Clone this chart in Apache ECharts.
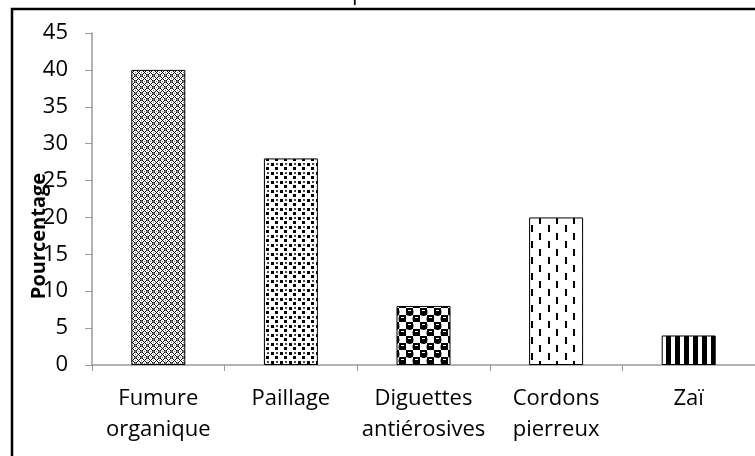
<!DOCTYPE html>
<html>
<head>
<meta charset="utf-8">
<script src="https://cdn.jsdelivr.net/npm/echarts@6/dist/echarts.min.js"></script>
<style>
	html, body { margin: 0; padding: 0; background: #fff; }
	#chart { width: 755px; height: 456px; }
</style>
</head>
<body>
<div id="chart"></div>
<script>
	var categories = ['Fumure\norganique', 'Paillage', 'Diguettes\nantiérosives', 'Cordons\npierreux', 'Zaï'];
	var values = [40, 28, 8, 20, 4];
	var yTicks = { min: 0, max: 45, interval: 5 };

	// motifs de remplissage (trames noir/blanc)
	function tile(w, h, draw) {
		var c = document.createElement('canvas');
		c.width = w;
		c.height = h;
		var ctx = c.getContext('2d');
		ctx.fillStyle = '#fff';
		ctx.fillRect(0, 0, w, h);
		ctx.fillStyle = '#000';
		draw(ctx);
		return { image: c, repeat: 'repeat' };
	}

	var motifs = [
		// petits losanges
		tile(6, 6, function(ctx) {
			for (var y = 0; y < 6; y++) {
				for (var x = 0; x < 6; x++) {
					if ((x + y) % 6 == 0 || (x - y + 6) % 6 == 0) ctx.fillRect(x, y, 1, 1);
				}
			}
			ctx.fillStyle = '#777';
			ctx.fillRect(3, 0, 1, 1);
			ctx.fillRect(0, 3, 1, 1);
			ctx.fillRect(2, 3, 3, 1);
			ctx.fillRect(3, 2, 1, 3);
		}),
		// confettis
		tile(9, 9, function(ctx) {
			ctx.fillRect(1, 1, 3, 3);
			ctx.fillRect(5, 5, 3, 3);
			ctx.fillStyle = '#444';
			ctx.fillRect(6, 1, 2, 2);
		}),
		// damier de boules
		tile(14, 14, function(ctx) {
			ctx.fillRect(0, 0, 7, 7);
			ctx.fillRect(7, 7, 7, 7);
			ctx.beginPath();
			ctx.arc(3.5, 4, 4, 0, Math.PI * 2);
			ctx.arc(10.5, 11, 4, 0, Math.PI * 2);
			ctx.fill();
			ctx.fillStyle = '#fff';
			ctx.fillRect(2, 2, 3, 1);
			ctx.fillRect(9, 9, 3, 1);
		}),
		// tirets verticaux
		tile(17, 16, function(ctx) {
			ctx.fillRect(4, 1, 2, 7);
			ctx.fillRect(12, 9, 2, 7);
		}),
		// rayures verticales
		tile(9, 4, function(ctx) {
			ctx.fillRect(0, 0, 5, 4);
		})
	];

	var myChart = echarts.init(document.getElementById('chart'));

	var option = {
		animation: false,
		textStyle: {
			fontFamily: 'Open Sans'
		},
		graphic: [{
			type: 'rect',
			shape: { x: 12, y: 9, width: 800, height: 500 },
			style: { fill: 'none', stroke: '#000', lineWidth: 2.5 }
		}, {
			type: 'text',
			left: 352,
			top: -17,
			style: { text: 'p', fontSize: 22, fontFamily: 'Open Sans', fill: '#000' }
		}, {
			// titre de l'axe, placé comme dans l'original (chevauche les graduations)
			type: 'text',
			x: 39,
			y: 236,
			rotation: Math.PI / 2,
			style: {
				text: 'Pourcentage',
				fontSize: 20,
				fontWeight: 'bold',
				fontFamily: 'Open Sans',
				fill: '#000',
				align: 'center',
				verticalAlign: 'middle'
			},
			z: 10
		}],
		grid: {
			left: 92,
			top: 33,
			width: 670,
			bottom: 91
		},
		xAxis: {
			type: 'category',
			data: categories,
			axisLine: { lineStyle: { color: '#999', width: 1.5 } },
			axisTick: { show: true, length: 6, lineStyle: { color: '#999' } },
			axisLabel: {
				interval: 0,
				color: '#000',
				fontSize: 22,
				lineHeight: 31,
				margin: 18
			}
		},
		yAxis: {
			type: 'value',
			min: yTicks.min,
			max: yTicks.max,
			interval: yTicks.interval,
			axisLine: { show: true, lineStyle: { color: '#999', width: 1.5 } },
			axisTick: { show: true, length: 7, lineStyle: { color: '#999' } },
			splitLine: { show: false },
			axisLabel: {
				color: '#000',
				fontSize: 22,
				margin: 24
			}
		},
		series: [{
			type: 'bar',
			barWidth: 54,
			data: values.map(function(v, i) {
				return {
					value: v,
					itemStyle: { color: motifs[i] }
				};
			}),
			itemStyle: {
				borderColor: '#000',
				borderWidth: 1
			}
		}]
	};

	myChart.setOption(option);
</script>
</body>
</html>
